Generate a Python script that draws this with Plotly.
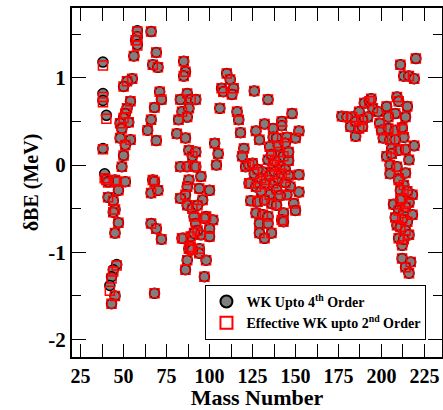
import plotly.graph_objects as go

mass = [
    38, 38, 38, 40, 38, 39, 40, 41, 44, 45, 44, 47, 45, 46, 44, 43, 42, 45, 43, 45, 46, 41, 47,
    58, 58, 57, 58, 56, 55, 52, 50, 54, 52, 51, 50, 53, 48, 49, 48, 54, 51, 50, 49, 51,
    66, 69, 67, 70, 71, 72, 68, 66, 64, 69, 67, 68, 66, 70, 66, 69, 72, 68,
    85, 86, 85, 83, 87, 89, 84, 88, 87, 82, 81, 86, 88, 90, 83, 87, 91, 88, 87, 86, 83, 87,
    90, 91, 85, 89, 88, 87, 86, 92, 92, 92, 95, 94, 100, 96, 93, 98, 102, 100, 95, 100, 94,
    94, 98, 97, 92, 93, 84, 91, 97, 89, 90,
    110, 112, 107, 114, 108, 113, 126, 134, 106, 116, 117, 148, 132, 118, 127, 129, 103, 105,
    104, 120, 119, 121,
    142, 142, 137, 137, 139, 145, 150, 152, 135, 140, 143, 134, 137, 141, 131, 126, 133, 124,
    123, 125, 152, 123, 127, 137, 147, 145, 152, 149, 150, 124, 128, 135, 136, 139, 143, 127,
    131, 134, 129, 134, 129, 136, 132, 142, 143,
    130, 132, 135, 138, 140, 142, 144, 139, 141, 144, 146, 130, 132, 138, 140, 144, 146, 128,
    136, 146,
    177, 182, 185, 183, 187, 190, 193, 195, 192, 189, 187, 189, 198, 203, 194, 180, 185,
    220, 211, 213, 216, 219, 209, 210, 215, 214, 212, 208, 204, 199, 200, 204, 208, 212, 213,
    201, 205, 208, 206, 210, 214, 219, 203, 206, 216, 205, 209, 214, 205, 210, 213, 210, 211,
    218, 216, 207, 210, 213, 218, 215, 209, 211, 214, 210, 212, 212, 217, 214, 216,
    212, 214, 212, 216, 213, 208, 211, 215,
]

wk_4th = [
    1.18, 0.82, 0.74, 0.57, 0.19, -0.10, -0.16, -0.37, -0.41, -0.51, -0.54, -0.66, -0.78, -1.14,
    -1.20, -1.28, -1.38, -1.50, -1.59, -0.17, -0.19, -0.19, -0.29,
    1.54, 1.47, 1.43, 1.38, 1.25, 0.99, 0.96, 0.90, 0.73, 0.65, 0.59, 0.54, 0.49, 0.48, 0.42,
    0.31, 0.29, 0.23, 0.11, -0.02, -0.19,
    1.53, 1.29, 1.15, 1.12, 0.84, 0.75, 0.66, 0.52, 0.40, 0.28, -0.17, -0.19, -0.32, -0.29,
    -0.67, -0.73, -0.85, -1.47,
    1.19, 1.07, 1.02, 0.75, 0.82, 0.75, 0.61, 0.65, 0.55, 0.52, 0.36, 0.31, 0.17, 0.10, -0.02,
    -0.02, -0.02, -0.17, -0.25, -0.34, -0.38, -0.46,
    -0.50, -0.59, -0.84, -0.82, -0.96, -1.09, -1.20, 0.75, 0.15, -0.02, -0.13, -0.27, -0.29,
    -0.40, -0.46, -0.59, -0.63, -0.73, -0.80, -0.82, -0.96,
    -1.01, -1.09, -1.28, -0.67, -0.75, -0.84, -0.78, -0.61, -0.94, -0.97,
    1.05, 0.98, 0.88, 0.88, 0.84, 0.81, 0.85, 0.75, 0.65, 0.61, 0.52, 0.59, 0.47, 0.37, 0.39,
    0.29, 0.25, 0.13, 0.00, 0.19, 0.10, -0.02,
    0.50, 0.45, 0.42, 0.32, 0.31, 0.32, 0.31, 0.39, 0.21, 0.15, 0.10, 0.06, 0.00, -0.02, -0.08,
    -0.10, -0.17, -0.21, 0.00, 0.02, -0.11, -0.21, -0.25, -0.21, -0.25, -0.34, -0.31, -0.44,
    -0.52, -0.41, -0.42, -0.34, -0.44, -0.46, -0.55, -0.55, -0.57, -0.59, -0.67, -0.67, -0.78,
    -0.78, -0.84, -0.63, -0.65,
    -0.15, -0.22, -0.12, -0.08, -0.15, -0.10, -0.05, -0.28, -0.35, -0.20, 0.05, -0.30, -0.40,
    0.05, 0.22, 0.25, 0.15, -0.05, 0.12, -0.12,
    0.56, 0.44, 0.33, 0.55, 0.61, 0.71, 0.73, 0.65, 0.55, 0.52, 0.42, 0.44, 0.61, 0.67, 0.76,
    0.55, 0.50,
    1.22, 1.15, 1.02, 1.02, 0.99, 0.78, 0.73, 0.67, 0.55, 0.41, 0.59, 0.55, 0.48, 0.40, 0.42,
    0.40, 0.43, 0.32, 0.31, 0.29, 0.29, 0.19, 0.17, 0.18, 0.22, 0.10, 0.13, 0.06, 0.00, -0.02,
    -0.09, -0.10, -0.15, -0.23, -0.17, -0.29, -0.34, -0.43, -0.45, -0.52, -0.55, -0.57, -0.65,
    -0.69, -0.71, -0.75, -0.84, -0.92, -1.07, -1.11, -1.17, -1.24,
    -0.38, -0.48, -0.62, -0.80, -0.85, -0.60, -0.40, -0.30,
]

eff_2nd = [
    1.14, 0.78, 0.72, 0.53, 0.18, -0.15, -0.17, -0.37, -0.41, -0.51, -0.54, -0.66, -0.78, -1.15,
    -1.22, -1.30, -1.44, -1.50, -1.59, -0.17, -0.19, -0.20, -0.29,
    1.53, 1.47, 1.43, 1.37, 1.25, 0.99, 0.96, 0.90, 0.73, 0.65, 0.59, 0.54, 0.49, 0.48, 0.42,
    0.31, 0.29, 0.23, 0.11, -0.02, -0.19,
    1.53, 1.29, 1.15, 1.12, 0.84, 0.75, 0.66, 0.52, 0.40, 0.28, -0.17, -0.19, -0.32, -0.29,
    -0.67, -0.73, -0.85, -1.47,
    1.19, 1.07, 1.02, 0.75, 0.82, 0.75, 0.61, 0.65, 0.55, 0.52, 0.36, 0.31, 0.17, 0.10, -0.02,
    -0.02, -0.02, -0.17, -0.25, -0.34, -0.38, -0.46,
    -0.50, -0.59, -0.84, -0.82, -0.96, -1.09, -1.20, 0.75, 0.15, -0.02, -0.13, -0.27, -0.29,
    -0.40, -0.46, -0.59, -0.63, -0.73, -0.80, -0.82, -0.96,
    -1.01, -1.09, -1.28, -0.67, -0.75, -0.84, -0.78, -0.61, -0.94, -0.97,
    1.05, 0.98, 0.88, 0.88, 0.84, 0.81, 0.85, 0.75, 0.65, 0.61, 0.52, 0.59, 0.47, 0.37, 0.39,
    0.29, 0.25, 0.13, 0.00, 0.19, 0.10, -0.02,
    0.50, 0.45, 0.42, 0.32, 0.31, 0.32, 0.31, 0.39, 0.21, 0.15, 0.10, 0.06, 0.00, -0.02, -0.08,
    -0.10, -0.17, -0.21, 0.00, 0.02, -0.11, -0.21, -0.25, -0.21, -0.25, -0.34, -0.31, -0.44,
    -0.52, -0.41, -0.42, -0.34, -0.44, -0.46, -0.55, -0.55, -0.57, -0.59, -0.67, -0.67, -0.78,
    -0.78, -0.84, -0.63, -0.65,
    -0.15, -0.22, -0.12, -0.08, -0.15, -0.10, -0.05, -0.28, -0.35, -0.20, 0.05, -0.30, -0.40,
    0.05, 0.22, 0.25, 0.15, -0.05, 0.12, -0.12,
    0.56, 0.44, 0.33, 0.55, 0.61, 0.71, 0.73, 0.65, 0.55, 0.52, 0.42, 0.44, 0.61, 0.67, 0.76,
    0.55, 0.50,
    1.22, 1.15, 1.02, 1.02, 0.99, 0.78, 0.73, 0.67, 0.55, 0.41, 0.59, 0.55, 0.48, 0.40, 0.42,
    0.40, 0.43, 0.32, 0.31, 0.29, 0.29, 0.19, 0.17, 0.18, 0.22, 0.10, 0.13, 0.06, 0.00, -0.02,
    -0.09, -0.10, -0.15, -0.23, -0.17, -0.29, -0.34, -0.43, -0.45, -0.52, -0.55, -0.57, -0.65,
    -0.69, -0.71, -0.75, -0.84, -0.92, -1.07, -1.11, -1.17, -1.24,
    -0.38, -0.48, -0.62, -0.80, -0.85, -0.60, -0.40, -0.30,
]

x_tick_vals = [25, 50, 75, 100, 125, 150, 175, 200, 225]
x_tick_text = ["25", "50", "75", "100", "125", "150", "175", "200", "225"]
x_minor_vals = [37.5, 62.5, 87.5, 112.5, 137.5, 162.5, 187.5, 212.5]
y_tick_vals = [-2, -1, 0, 1]
y_tick_text = ["-2", "-1", "0", "1"]
y_minor_vals = [-1.5, -0.5, 0.5, 1.5]

FONT = "Times New Roman, Liberation Serif, serif"

fig = go.Figure()
fig.add_trace(go.Scatter(
    x=mass, y=wk_4th, mode="markers",
    name="<b>WK Upto 4<sup>th</sup> Order</b>",
    marker=dict(symbol="circle", size=10, color="#7f7f7f",
                line=dict(color="black", width=1.5)),
))
fig.add_trace(go.Scatter(
    x=mass, y=eff_2nd, mode="markers",
    name="<b>Effective WK upto 2<sup>nd</sup> Order</b>",
    marker=dict(symbol="square-open", size=9, color="red",
                line=dict(color="red", width=1.5)),
))

fig.update_layout(
    width=443, height=410,
    margin=dict(l=72, r=1, t=8, b=53, autoexpand=False),
    paper_bgcolor="white", plot_bgcolor="white",
    font=dict(family=FONT, color="black"),
    showlegend=True,
    legend=dict(
        x=0.958, y=0.049, xanchor="right", yanchor="bottom",
        bgcolor="white", bordercolor="black", borderwidth=1,
        font=dict(family=FONT, size=14, color="black"),
        tracegroupgap=2, itemsizing="constant",
    ),
)
fig.update_xaxes(
    range=[20, 235.2], automargin=False,
    tickmode="array", tickvals=x_tick_vals, ticktext=x_tick_text,
    ticks="inside", ticklen=13, tickwidth=1, tickcolor="black",
    minor=dict(tickvals=x_minor_vals, ticks="inside", ticklen=13,
               tickcolor="black", tickwidth=1, showgrid=False),
    showline=True, linecolor="black", linewidth=2, mirror="allticks",
    showgrid=False, zeroline=False,
    tickfont=dict(family=FONT, size=20, color="black", weight="bold"),
    title=dict(text="<b>Mass Number</b>", font=dict(family=FONT, size=22, color="black"),
               standoff=0),
)
fig.update_yaxes(
    range=[-2.2, 1.8], automargin=False,
    tickmode="array", tickvals=y_tick_vals, ticktext=y_tick_text,
    ticks="inside", ticklen=14, tickwidth=1, tickcolor="black",
    minor=dict(tickvals=y_minor_vals, ticks="inside", ticklen=9,
               tickcolor="black", tickwidth=1, showgrid=False),
    showline=True, linecolor="black", linewidth=2, mirror="allticks",
    showgrid=False, zeroline=False,
    tickfont=dict(family=FONT, size=21, color="black", weight="bold"),
    title=dict(text="<b>δBE (MeV)</b>", font=dict(family=FONT, size=20, color="black"),
               standoff=4),
)

fig.write_html(
    "out.html",
    config={"displayModeBar": False},
    post_script="document.body.style.margin='0';document.body.style.padding='0';",
)
